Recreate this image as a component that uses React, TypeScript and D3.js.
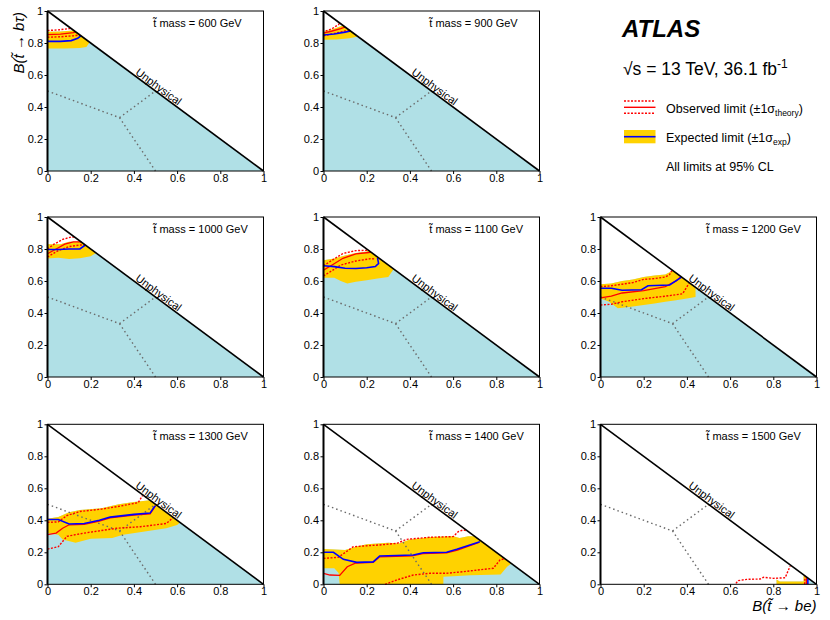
import { useEffect, useRef } from 'react';
import * as d3 from 'd3';

type Pt = [number, number];

// ---- data (x = B(t~ -> be), y = B(t~ -> b tau)) ----
const masses = [600, 900, 1000, 1100, 1200, 1300, 1400, 1500];
const ticks = [0, 0.2, 0.4, 0.6, 0.8, 1];
const tickLabels = ['0', '0.2', '0.4', '0.6', '0.8', '1'];

// three-way boundaries (dotted) and the kinematic edge x + y = 1
const boundaryA: Pt[] = [[0, 0.5], [1 / 3, 1 / 3]];
const boundaryB: Pt[] = [[1 / 3, 1 / 3], [0.5, 0.5]];
const boundaryC: Pt[] = [[1 / 3, 1 / 3], [0.5, 0]];
const edge: Pt[] = [[0, 1], [1, 0]];

const bandUp600: Pt[] = [[0, 0.87], [0.06, 0.872], [0.12, 0.878], [0.125, 0.875]];
const bandLo600: Pt[] = [[0, 0.765], [0.08, 0.765], [0.15, 0.768], [0.18, 0.775], [0.195, 0.805]];
const exp600: Pt[] = [[0, 0.81], [0.06, 0.81], [0.11, 0.815], [0.14, 0.83], [0.155, 0.845]];
const obs600: Pt[] = [[0, 0.852], [0.06, 0.856], [0.12, 0.865], [0.13, 0.87]];
const obsUp600: Pt[] = [[0, 0.878], [0.05, 0.882], [0.1, 0.89], [0.11, 0.89]];
const obsDn600: Pt[] = [[0, 0.836], [0.06, 0.839], [0.12, 0.845], [0.15, 0.85]];

const bandUp900: Pt[] = [[0, 0.87], [0.04, 0.885], [0.08, 0.905], [0.09, 0.91]];
const bandLo900: Pt[] = [[0, 0.82], [0.06, 0.822], [0.12, 0.83], [0.16, 0.84]];
const exp900: Pt[] = [[0, 0.85], [0.05, 0.856], [0.1, 0.868], [0.125, 0.875]];
const obs900: Pt[] = [[0, 0.862], [0.04, 0.875], [0.08, 0.89], [0.1, 0.9]];
const obsUp900: Pt[] = [[0.01, 0.875], [0.04, 0.89], [0.07, 0.915], [0.075, 0.925]];
const obsDn900: Pt[] = [[0, 0.845], [0.05, 0.86], [0.1, 0.875], [0.12, 0.88]];

const bandUp1000: Pt[] = [[0, 0.83], [0.06, 0.83], [0.1, 0.845], [0.155, 0.845]];
const bandLo1000: Pt[] = [[0, 0.74], [0.05, 0.745], [0.1, 0.738], [0.15, 0.742], [0.2, 0.755], [0.225, 0.775]];
const exp1000: Pt[] = [[0, 0.797], [0.05, 0.797], [0.1, 0.8], [0.15, 0.8], [0.175, 0.825]];
const obs1000: Pt[] = [[0, 0.77], [0.04, 0.8], [0.08, 0.83], [0.12, 0.845], [0.15, 0.845], [0.16, 0.84]];
const obsUp1000: Pt[] = [[0, 0.8], [0.03, 0.83], [0.07, 0.86], [0.11, 0.875], [0.125, 0.875]];
const obsDn1000: Pt[] = [[0, 0.75], [0.05, 0.79], [0.1, 0.815], [0.15, 0.825], [0.17, 0.825]];

const bandUp1100: Pt[] = [[0, 0.73], [0.05, 0.74], [0.1, 0.76], [0.15, 0.775], [0.2, 0.785], [0.21, 0.79]];
const bandLo1100: Pt[] = [[0, 0.62], [0.05, 0.62], [0.08, 0.6], [0.11, 0.585], [0.15, 0.595], [0.2, 0.605], [0.25, 0.615], [0.3, 0.625], [0.325, 0.675]];
const exp1100: Pt[] = [[0, 0.695], [0.05, 0.69], [0.1, 0.68], [0.15, 0.678], [0.2, 0.683], [0.24, 0.69], [0.255, 0.71], [0.25, 0.745]];
const obs1100: Pt[] = [[0, 0.668], [0.04, 0.7], [0.09, 0.742], [0.15, 0.77], [0.21, 0.778], [0.22, 0.78]];
const obsUp1100: Pt[] = [[0, 0.695], [0.04, 0.73], [0.09, 0.772], [0.15, 0.79], [0.2, 0.792], [0.205, 0.795]];
const obsDn1100: Pt[] = [[0, 0.632], [0.04, 0.665], [0.08, 0.7], [0.15, 0.725], [0.22, 0.74], [0.24, 0.738]];

const bandUp1200: Pt[] = [[0, 0.58], [0.05, 0.585], [0.1, 0.6], [0.15, 0.61], [0.2, 0.625], [0.25, 0.635], [0.3, 0.64], [0.335, 0.665]];
const bandLo1200: Pt[] = [[0, 0.49], [0.04, 0.47], [0.08, 0.43], [0.15, 0.44], [0.2, 0.45], [0.25, 0.46], [0.3, 0.47], [0.35, 0.48], [0.4, 0.49], [0.44, 0.5], [0.44, 0.56]];
const exp1200: Pt[] = [[0, 0.555], [0.05, 0.555], [0.1, 0.542], [0.19, 0.545], [0.22, 0.57], [0.32, 0.575], [0.37, 0.62], [0.375, 0.625]];
const obs1200: Pt[] = [[0, 0.495], [0.05, 0.505], [0.1, 0.525], [0.2, 0.54], [0.3, 0.565], [0.35, 0.6], [0.37, 0.625]];
const obsUp1200: Pt[] = [[0, 0.565], [0.05, 0.57], [0.1, 0.58], [0.15, 0.59], [0.2, 0.61], [0.25, 0.615], [0.3, 0.625], [0.32, 0.64], [0.33, 0.665]];
const obsDn1200: Pt[] = [[0, 0.45], [0.05, 0.455], [0.1, 0.47], [0.2, 0.49], [0.3, 0.505], [0.38, 0.52], [0.41, 0.585]];

const bandUp1300: Pt[] = [[0, 0.41], [0.05, 0.42], [0.1, 0.45], [0.15, 0.465], [0.25, 0.475], [0.33, 0.5], [0.4, 0.515], [0.475, 0.525]];
const bandLo1300: Pt[] = [[0, 0.32], [0.05, 0.31], [0.07, 0.28], [0.13, 0.26], [0.2, 0.285], [0.3, 0.29], [0.35, 0.31], [0.45, 0.33], [0.55, 0.35], [0.6, 0.37], [0.613, 0.387]];
const exp1300: Pt[] = [[0, 0.405], [0.05, 0.405], [0.1, 0.377], [0.17, 0.38], [0.24, 0.4], [0.29, 0.42], [0.4, 0.437], [0.475, 0.445], [0.495, 0.485], [0.5, 0.49]];
const obs1300: Pt[] = [[0, 0.31], [0.04, 0.32], [0.07, 0.35], [0.1, 0.372], [0.17, 0.375], [0.24, 0.395], [0.29, 0.415], [0.4, 0.432], [0.475, 0.44], [0.495, 0.48], [0.5, 0.49]];
const obsUp1300: Pt[] = [[0, 0.387], [0.05, 0.39], [0.09, 0.43], [0.15, 0.455], [0.25, 0.47], [0.32, 0.485], [0.42, 0.51], [0.44, 0.555]];
const obsDn1300: Pt[] = [[0, 0.22], [0.05, 0.235], [0.09, 0.3], [0.17, 0.32], [0.32, 0.35], [0.43, 0.36], [0.55, 0.38], [0.58, 0.415]];

const bandUp1400: Pt[] = [[0, 0.22], [0.1, 0.215], [0.15, 0.235], [0.2, 0.25], [0.3, 0.26], [0.35, 0.255], [0.4, 0.28], [0.5, 0.295], [0.6, 0.3], [0.63, 0.29], [0.67, 0.3], [0.7, 0.3]];
const bandLo1400: Pt[] = [[0, 0.1], [0.05, 0.1], [0.07, 0.07], [0.075, 0], [0.555, 0], [0.555, 0.047], [0.6, 0.05], [0.68, 0.056], [0.82, 0.062], [0.85, 0.11], [0.87, 0.13]];
const exp1400: Pt[] = [[0, 0.2], [0.046, 0.2], [0.092, 0.156], [0.154, 0.137], [0.23, 0.14], [0.26, 0.177], [0.416, 0.183], [0.462, 0.197], [0.57, 0.2], [0.617, 0.219], [0.724, 0.266]];
const obs1400: Pt[] = [[0, 0.068], [0.03, 0.058], [0.075, 0.056], [0.11, 0.11], [0.15, 0.133], [0.23, 0.137], [0.26, 0.172], [0.41, 0.178], [0.46, 0.192], [0.57, 0.196], [0.62, 0.214], [0.72, 0.262]];
const obsUp1400: Pt[] = [[0, 0.162], [0.069, 0.169], [0.138, 0.235], [0.26, 0.246], [0.34, 0.256], [0.385, 0.281], [0.493, 0.294], [0.6, 0.298], [0.624, 0.329], [0.647, 0.34], [0.66, 0.336]];
const obsDn1400: Pt[] = [[0.285, 0], [0.339, 0.027], [0.416, 0.058], [0.493, 0.069], [0.57, 0.069], [0.647, 0.079], [0.786, 0.1], [0.817, 0.152], [0.84, 0.16]];

const bandUp1500: Pt[] = [[0.815, 0.03], [0.83, 0.018], [0.94, 0.018], [0.94, 0.055], [0.945, 0.055]];
const bandLo1500: Pt[] = [[0.815, 0], [0.95, 0], [0.95, 0.05]];
const exp1500: Pt[] = [[0.96, 0], [0.96, 0.03], [0.962, 0.038]];
const obs1500: Pt[] = [[0.953, 0], [0.953, 0.035], [0.955, 0.045]];
const obsUp1500: Pt[] = [[0.627, 0.006], [0.638, 0.023], [0.677, 0.031], [0.739, 0.033], [0.755, 0.044], [0.801, 0.037], [0.855, 0.041], [0.87, 0.089], [0.878, 0.114]];
const obsDn1500: Pt[] = [[0.945, 0], [0.946, 0.03], [0.948, 0.05]];

const bandUps = [bandUp600, bandUp900, bandUp1000, bandUp1100, bandUp1200, bandUp1300, bandUp1400, bandUp1500];
const bandLos = [bandLo600, bandLo900, bandLo1000, bandLo1100, bandLo1200, bandLo1300, bandLo1400, bandLo1500];
const exps = [exp600, exp900, exp1000, exp1100, exp1200, exp1300, exp1400, exp1500];
const obss = [obs600, obs900, obs1000, obs1100, obs1200, obs1300, obs1400, obs1500];
const obsUps = [obsUp600, obsUp900, obsUp1000, obsUp1100, obsUp1200, obsUp1300, obsUp1400, obsUp1500];
const obsDns = [obsDn600, obsDn900, obsDn1000, obsDn1100, obsDn1200, obsDn1300, obsDn1400, obsDn1500];

// ---- layout ----
const W = 216;
const H = 160;
const colX = [47.5, 323.5, 600.5];
const rowY = [11, 217, 424.3];
const slot = [[0, 0], [1, 0], [0, 1], [1, 1], [2, 1], [0, 2], [1, 2], [2, 2]];
const FONT = 'Liberation Sans, Arial, Helvetica, sans-serif';
const LIGHTBLUE = '#b0e0e6';
const YELLOW = '#ffd200';
const RED = '#ff0000';
const BLUE = '#0000ff';

export default function App() {
  const ref = useRef<SVGSVGElement | null>(null);

  useEffect(() => {
    const svg = d3.select(ref.current);
    svg.selectAll('*').remove();
    svg.append('rect').attr('width', 830).attr('height', 620).attr('fill', '#fff');

    masses.forEach((m, i) => {
      const [c, r] = slot[i];
      const px = colX[c];
      const py = rowY[r];
      const x = d3.scaleLinear().domain([0, 1]).range([px, px + W]);
      const y = d3.scaleLinear().domain([0, 1]).range([py + H, py]);
      const line = d3.line<Pt>().x((d) => x(d[0])).y((d) => y(d[1]));
      const g = svg.append('g');

      // excluded region below the band, then the expected +-1 sigma band on top
      const up = bandUps[i];
      g.append('path')
        .attr('d', line([[up[0][0], 0], ...up, [1, 0]]) + 'Z')
        .attr('fill', LIGHTBLUE);
      g.append('path')
        .attr('d', line([...up, ...bandLos[i].slice().reverse()]) + 'Z')
        .attr('fill', YELLOW);

      for (const b of [boundaryA, boundaryB, boundaryC]) {
        g.append('path')
          .attr('d', line(b))
          .attr('fill', 'none')
          .attr('stroke', '#6a6a6a')
          .attr('stroke-width', 1.4)
          .attr('stroke-dasharray', '1.5,3');
      }

      for (const s of [obsUps[i], obsDns[i]]) {
        g.append('path')
          .attr('d', line(s))
          .attr('fill', 'none')
          .attr('stroke', RED)
          .attr('stroke-width', 1.4)
          .attr('stroke-dasharray', '2,1.5');
      }
      g.append('path').attr('d', line(obss[i])).attr('fill', 'none').attr('stroke', RED).attr('stroke-width', 1.3);
      g.append('path').attr('d', line(exps[i])).attr('fill', 'none').attr('stroke', BLUE).attr('stroke-width', 1.6);

      g.append('path').attr('d', line(edge)).attr('fill', 'none').attr('stroke', '#000').attr('stroke-width', 1.6);

      // frame
      g.append('rect')
        .attr('x', px).attr('y', py).attr('width', W).attr('height', H)
        .attr('fill', 'none').attr('stroke', '#000').attr('stroke-width', 1);
      g.append('line')
        .attr('x1', px).attr('x2', px).attr('y1', py).attr('y2', py + H)
        .attr('stroke', '#000').attr('stroke-width', 2);

      const yAxis = d3.axisLeft(y).tickValues(ticks).tickFormat((_, k) => tickLabels[k]).tickSize(3).tickPadding(1.5);
      const xAxis = d3.axisBottom(x).tickValues(ticks).tickFormat((_, k) => tickLabels[k]).tickSize(3).tickPadding(0);
      for (const [axis, tr] of [[yAxis, `translate(${px},0)`], [xAxis, `translate(0,${py + H})`]] as const) {
        const a = g.append('g').attr('transform', tr).call(axis as any);
        a.select('.domain').remove();
        a.selectAll('text').attr('font-family', FONT).attr('font-size', 11).attr('fill', '#000');
        a.selectAll('line').attr('stroke', '#000');
      }

      // "Unphysical" along the edge
      const ang = (Math.atan2(H, W) * 180) / Math.PI;
      g.append('text')
        .attr('transform', `translate(${x(0.5)},${y(0.5)}) rotate(${ang})`)
        .attr('y', -1.5)
        .attr('text-anchor', 'middle')
        .attr('font-family', FONT)
        .attr('font-size', 11)
        .text('Unphysical');

      g.append('text')
        .attr('x', x(0.49))
        .attr('y', py + 15.5)
        .attr('font-family', FONT)
        .attr('font-size', 11)
        .text(`t\u0303 mass = ${m} GeV`);
    });

    // axis titles
    svg.append('text')
      .attr('transform', `translate(23.5,${rowY[0] + 1}) rotate(-90)`)
      .attr('text-anchor', 'end')
      .attr('font-family', FONT)
      .attr('font-style', 'italic')
      .attr('font-size', 15)
      .text('B(t\u0303 \u2192 b\u03c4)');
    svg.append('text')
      .attr('x', colX[2] + W)
      .attr('y', 611)
      .attr('text-anchor', 'end')
      .attr('font-family', FONT)
      .attr('font-style', 'italic')
      .attr('font-size', 15)
      .text('B(t\u0303 \u2192 be)');

    // legend block
    const lg = svg.append('g').attr('font-family', FONT);
    lg.append('text').attr('x', 622).attr('y', 37).attr('font-size', 24).attr('font-weight', 'bold').attr('font-style', 'italic').text('ATLAS');
    const rs = lg.append('text').attr('x', 623).attr('y', 75).attr('font-size', 17.5);
    rs.append('tspan').text('\u221as = 13 TeV, 36.1 fb');
    rs.append('tspan').attr('font-size', 12).attr('dy', -7).text('-1');

    const sx0 = 624;
    const sx1 = 655.5;
    for (const [yy, dashed] of [[101, true], [107.3, false], [113.3, true]] as const) {
      lg.append('line')
        .attr('x1', sx0).attr('x2', sx1).attr('y1', yy).attr('y2', yy)
        .attr('stroke', RED).attr('stroke-width', 1.4)
        .attr('stroke-dasharray', dashed ? '2,1.5' : null);
    }
    lg.append('rect').attr('x', sx0).attr('y', 130).attr('width', sx1 - sx0).attr('height', 13.3).attr('fill', YELLOW);
    lg.append('line').attr('x1', sx0).attr('x2', sx1).attr('y1', 136.7).attr('y2', 136.7).attr('stroke', BLUE).attr('stroke-width', 1.6);

    const t1 = lg.append('text').attr('x', 666).attr('y', 112.7).attr('font-size', 12.5);
    t1.append('tspan').text('Observed limit (\u00b11\u03c3');
    t1.append('tspan').attr('font-size', 8.5).attr('dy', 3.5).text('theory');
    t1.append('tspan').attr('dy', -3.5).text(')');
    const t2 = lg.append('text').attr('x', 666).attr('y', 141.7).attr('font-size', 12.5);
    t2.append('tspan').text('Expected limit (\u00b11\u03c3');
    t2.append('tspan').attr('font-size', 8.5).attr('dy', 3.5).text('exp');
    t2.append('tspan').attr('dy', -3.5).text(')');
    lg.append('text').attr('x', 666).attr('y', 170.7).attr('font-size', 12.5).text('All limits at 95% CL');
  }, []);

  return (
    <svg
      ref={ref}
      width={830}
      height={620}
      style={{ position: 'absolute', left: 0, top: 0, display: 'block' }}
    />
  );
}
